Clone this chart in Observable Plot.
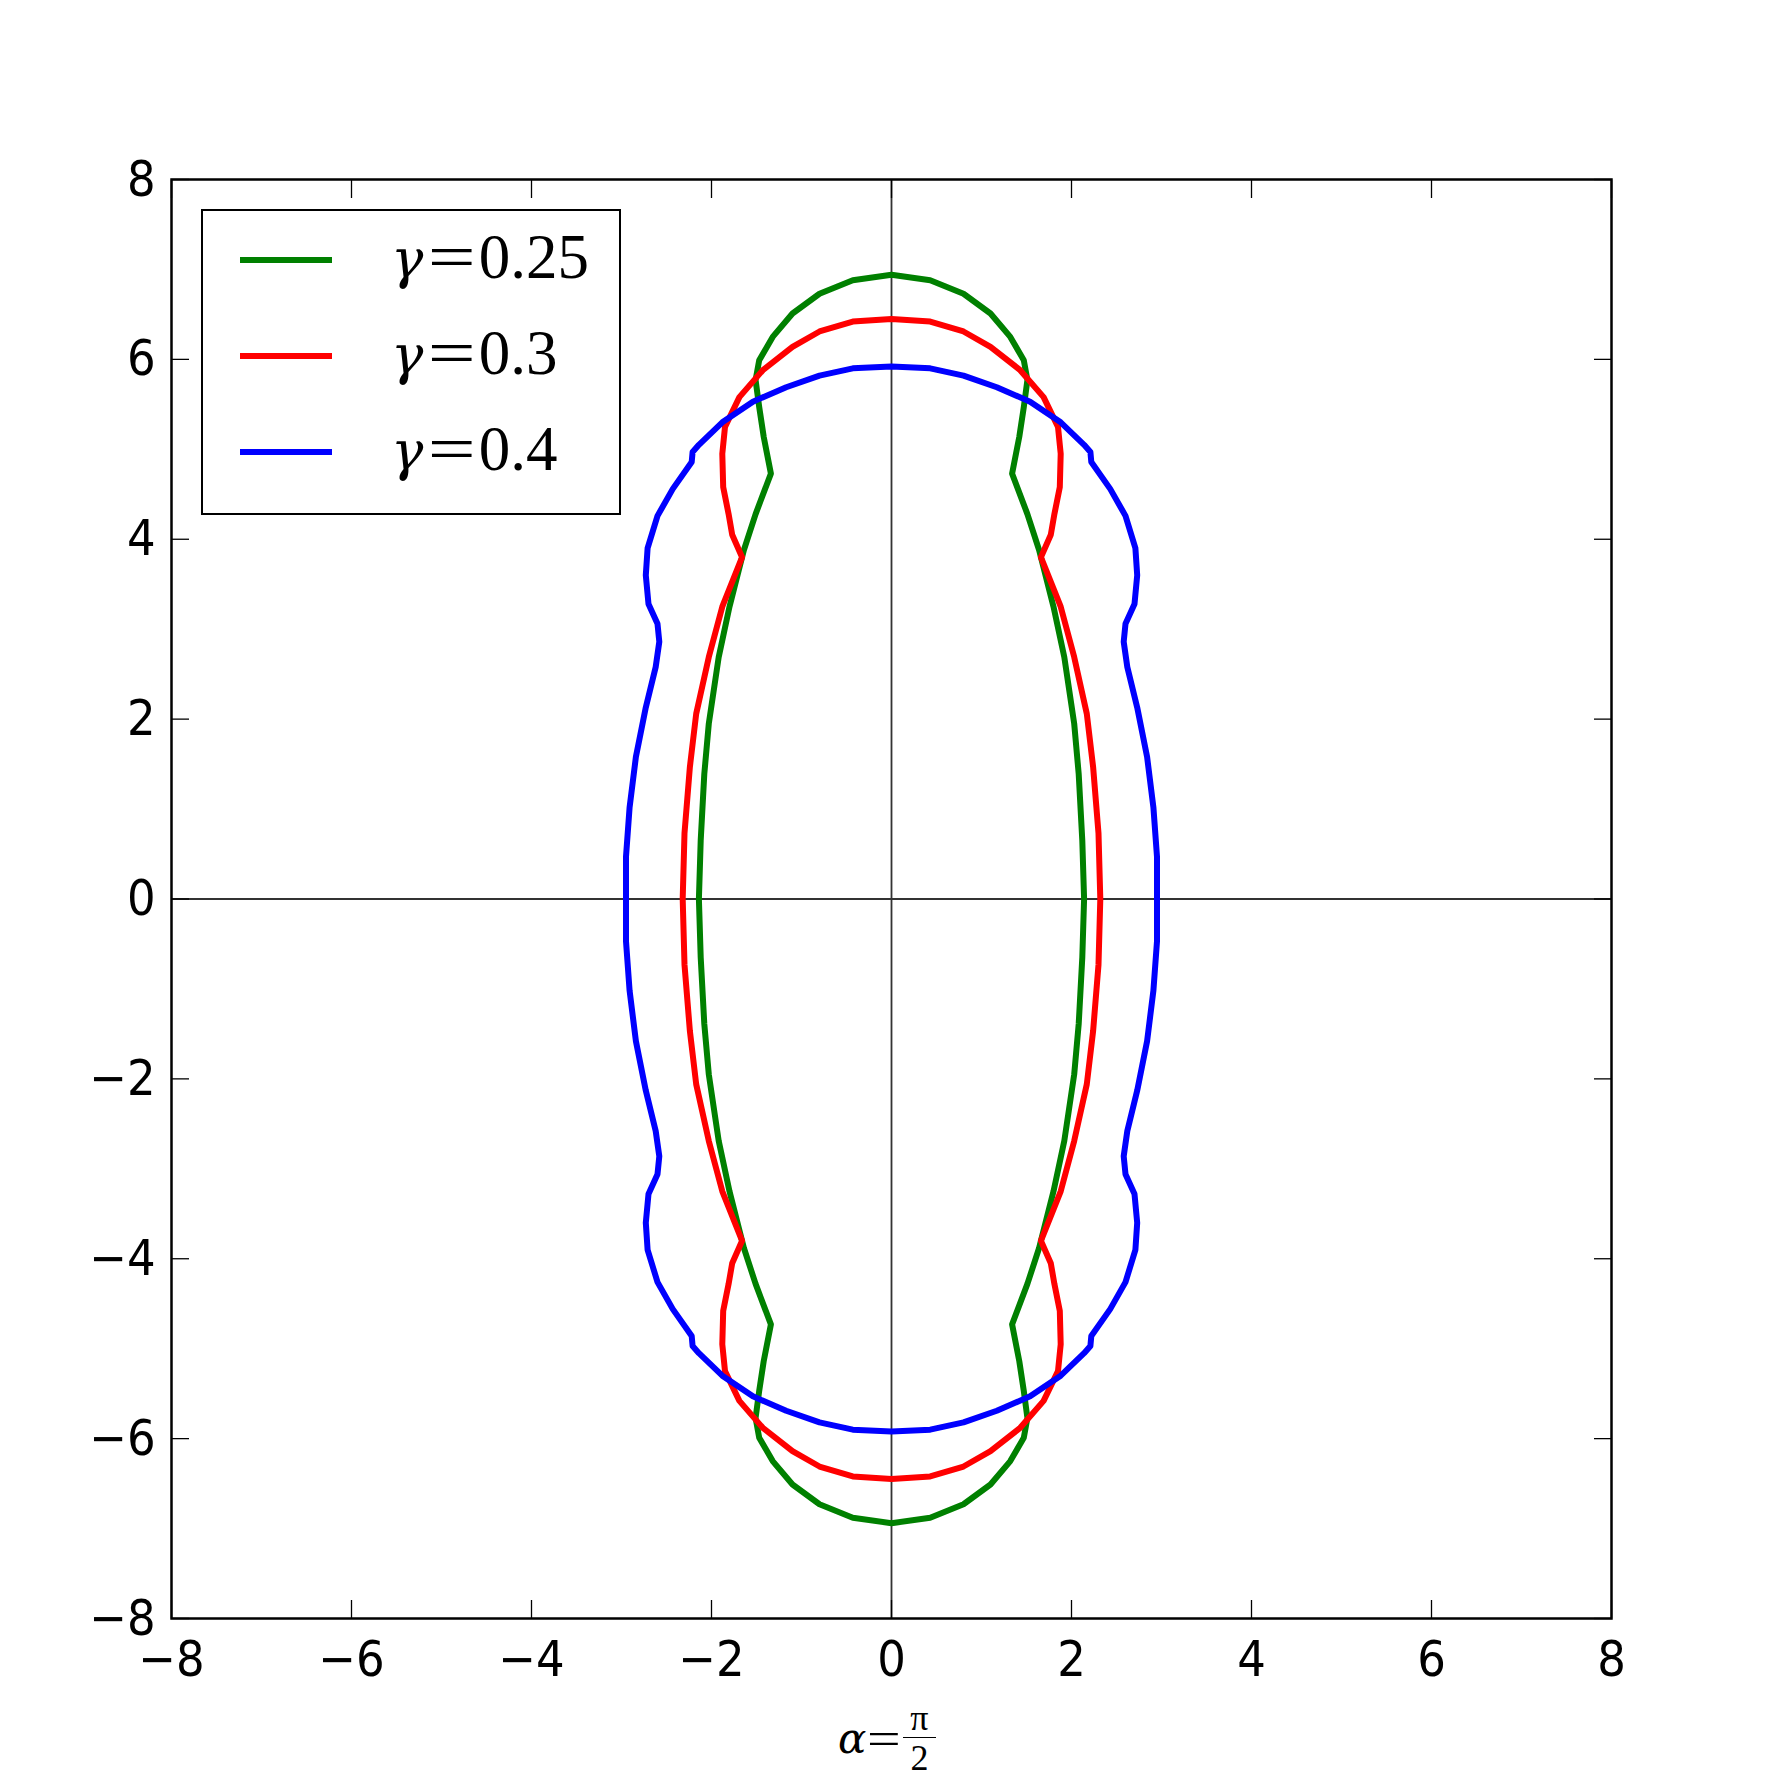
<!DOCTYPE html>
<html>
<head>
<meta charset="utf-8">
<script src="https://cdn.jsdelivr.net/npm/d3@7"></script>
<script src="https://cdn.jsdelivr.net/npm/@observablehq/plot@0.6"></script>
<style>
  html, body { margin: 0; padding: 0; background: white; }
  #wrap { position: relative; width: 1790px; height: 1790px; overflow: hidden; }
  #legend { position: absolute; left: 201px; top: 209px; width: 416px; height: 302px;
            border: 2.5px solid black; background: white; }
  .lg-line { position: absolute; left: 37px; width: 92px; height: 6px; }
  .lg-text { position: absolute; left: 188px; font-family: "Liberation Serif", "DejaVu Serif", serif;
             font-size: 63px; line-height: 1; white-space: nowrap; }
  .lg-text .g { font-family: "DejaVu Serif", serif; font-style: italic; font-size: 54px; }
  .lg-text .eq { display: inline-block; transform: scaleX(1.35); margin: 0 9px 0 11px; }
  #xlabel { position: absolute; left: 838px; top: 1700px; font-family: "Liberation Serif", "DejaVu Serif", serif;
            font-size: 46px; white-space: nowrap; display: flex; align-items: center; }
  #xlabel .a { font-family: "DejaVu Serif", serif; font-style: italic; font-size: 42px; }
  #xlabel .eq { display: inline-block; transform: scaleX(1.3); margin: 0 4px 0 5px; }
  .frac { display: inline-flex; flex-direction: column; align-items: center; font-size: 36px; line-height: 1; margin-left: 2px; }
  .frac .num { border-bottom: 1.5px solid black; padding: 0 7px 1px 7px; }
  .frac .den { padding-top: 2px; }
</style>
</head>
<body>
<div id="wrap"></div>
<script>
// ---- Data (first quadrant of each closed curve) ----
const seriesNames = ["γ=0.25", "γ=0.3", "γ=0.4"];
const seriesColors = ["#008000", "#ff0000", "#0000ff"];

const g025X = [0, 0.43, 0.80, 1.10, 1.32, 1.47, 1.51, 1.47, 1.42, 1.34, 1.51, 1.64, 1.80, 1.92, 2.03, 2.08, 2.12, 2.14];
const g025Y = [6.94, 6.88, 6.73, 6.51, 6.25, 5.99, 5.77, 5.47, 5.14, 4.73, 4.28, 3.88, 3.25, 2.69, 1.95, 1.39, 0.65, 0];

const g030X = [0, 0.43, 0.80, 1.10, 1.43, 1.69, 1.85, 1.88, 1.87, 1.81, 1.77, 1.66, 1.88, 2.03, 2.17, 2.24, 2.30, 2.32];
const g030Y = [6.45, 6.42, 6.31, 6.14, 5.88, 5.58, 5.25, 4.95, 4.58, 4.28, 4.05, 3.80, 3.25, 2.69, 2.06, 1.47, 0.73, 0];

const g040X = [0, 0.43, 0.80, 1.17, 1.54, 1.88, 2.14, 2.21, 2.22, 2.43, 2.60, 2.71, 2.73, 2.70, 2.60, 2.58, 2.62, 2.73, 2.84, 2.91, 2.95, 2.95];
const g040Y = [5.92, 5.90, 5.82, 5.69, 5.53, 5.30, 5.05, 4.97, 4.86, 4.56, 4.26, 3.90, 3.60, 3.28, 3.06, 2.86, 2.58, 2.13, 1.58, 1.02, 0.47, 0];

const xTicks = [-8, -6, -4, -2, 0, 2, 4, 6, 8];
const xTickLabels = ["−8", "−6", "−4", "−2", "0", "2", "4", "6", "8"];
const yTicks = [-8, -6, -4, -2, 0, 2, 4, 6, 8];
const yTickLabels = ["−8", "−6", "−4", "−2", "0", "2", "4", "6", "8"];

// ---- Build closed curves using the figure's symmetry about both axes ----
function closedLoop(xs, ys, name) {
  const q1 = xs.map((x, i) => ({x, y: ys[i]}));
  const q4 = q1.slice().reverse().map(p => ({x: p.x, y: -p.y}));
  const q3 = q1.map(p => ({x: -p.x, y: -p.y}));
  const q2 = q1.slice().reverse().map(p => ({x: -p.x, y: p.y}));
  return [...q1, ...q4.slice(1), ...q3.slice(1), ...q2.slice(1)].map(p => ({...p, series: name}));
}
const rows = [
  ...closedLoop(g025X, g025Y, seriesNames[0]),
  ...closedLoop(g030X, g030Y, seriesNames[1]),
  ...closedLoop(g040X, g040Y, seriesNames[2])
];

const xLab = new Map(xTicks.map((t, i) => [t, xTickLabels[i]]));
const yLab = new Map(yTicks.map((t, i) => [t, yTickLabels[i]]));
const blank = () => "";

const chart = Plot.plot({
  width: 1790,
  height: 1790,
  marginLeft: 171,
  marginRight: 179,
  marginTop: 179,
  marginBottom: 172,
  x: {type: "linear", domain: [-8, 8]},
  y: {type: "linear", domain: [-8, 8]},
  color: {domain: seriesNames, range: seriesColors},
  style: {fontFamily: "'DejaVu Sans Condensed', 'DejaVu Sans', sans-serif", fontSize: "50px", color: "black", background: "white"},
  marks: [
    Plot.ruleX([0], {stroke: "#333", strokeWidth: 1.8}),
    Plot.ruleY([0], {stroke: "#333", strokeWidth: 1.8}),
    Plot.line(rows, {x: "x", y: "y", z: "series", stroke: "series", strokeWidth: 6, curve: "linear", strokeLinejoin: "round", strokeLinecap: "round"}),
    // labels
    Plot.axisX({ticks: xTicks, anchor: "bottom", tickSize: 0, tickPadding: 22, tickFormat: d => xLab.get(d), label: null, fontSize: 50}),
    Plot.axisY({ticks: yTicks, anchor: "left", tickSize: 0, tickPadding: 16, tickFormat: d => yLab.get(d), label: null, fontSize: 50}),
    // inward ticks on all four sides
    Plot.axisX({ticks: xTicks, anchor: "bottom", tickSize: -18, tickFormat: blank, label: null, strokeWidth: 1.3}),
    Plot.axisX({ticks: xTicks, anchor: "top", tickSize: -18, tickFormat: blank, label: null, strokeWidth: 1.3}),
    Plot.axisY({ticks: yTicks, anchor: "left", tickSize: -18, tickFormat: blank, label: null, strokeWidth: 1.3}),
    Plot.axisY({ticks: yTicks, anchor: "right", tickSize: -18, tickFormat: blank, label: null, strokeWidth: 1.3}),
    Plot.frame({stroke: "black", strokeWidth: 2.5})
  ]
});
document.getElementById("wrap").appendChild(chart);

const legend = document.createElement("div");
legend.id = "legend";
const lineTops = [49, 145, 241];
seriesNames.forEach((name, i) => {
  const ln = document.createElement("div");
  ln.className = "lg-line";
  ln.style.top = (lineTops[i] - 3) + "px";
  ln.style.background = seriesColors[i];
  legend.appendChild(ln);
  const tx = document.createElement("div");
  tx.className = "lg-text";
  tx.style.top = (lineTops[i] - 34) + "px";
  tx.innerHTML = '<span class="g">γ</span><span class="eq">=</span>' + name.split("=")[1];
  legend.appendChild(tx);
});
document.getElementById("wrap").appendChild(legend);

const xl = document.createElement("div");
xl.id = "xlabel";
xl.innerHTML = '<span class="a">α</span><span class="eq">=</span><span class="frac"><span class="num">π</span><span class="den">2</span></span>';
document.getElementById("wrap").appendChild(xl);
</script>
</body>
</html>
